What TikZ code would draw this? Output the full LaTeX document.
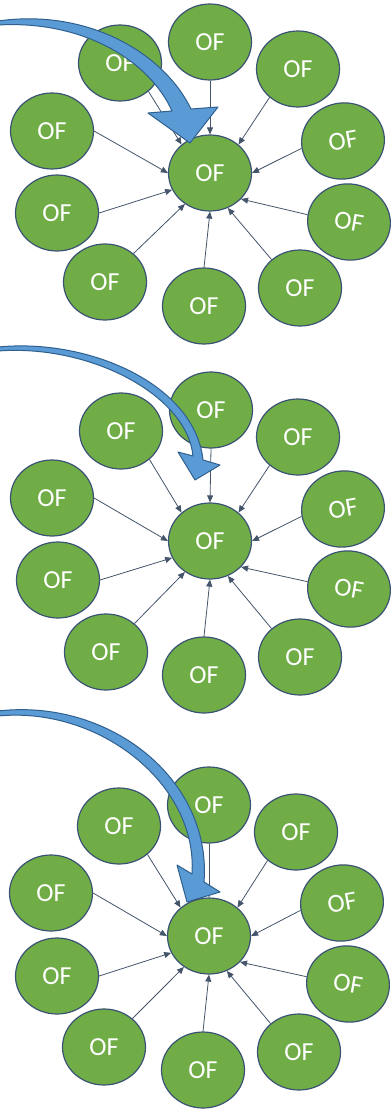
\documentclass[tikz,border=0pt]{standalone}
\usepackage{fontspec}
\newfontfamily\ofsans{Carlito}
\usepackage{tikz}
\usetikzlibrary{arrows.meta,shapes.geometric,backgrounds}
\definecolor{ofgreen}{HTML}{70AD47}
\definecolor{ofline}{HTML}{3B5373}
\definecolor{feedline}{HTML}{44546A}
\definecolor{bigblue}{HTML}{5B9BD5}
\definecolor{bigblueline}{HTML}{2E5F8E}
\tikzset{
  ofnode/.style={ellipse, draw=ofline, fill=ofgreen, text=white, line width=1.2pt,
    minimum width=83pt, minimum height=76pt, inner sep=0pt,
    font=\ofsans\fontsize{26}{26}\selectfont},
  feed/.style={draw=feedline, line width=0.8pt, -{Triangle[length=7pt,width=6pt]}},
  bigarrow/.style={fill=bigblue, draw=bigblueline, line width=1pt, line join=round}
}
\begin{document}
\begin{tikzpicture}[x=1pt,y=-1pt]
   \useasboundingbox (0,0) rectangle (391,1110);

   \draw (210,173) node[ofnode] (a0) {OF};
   \draw (210,42) node[ofnode] (a1) {OF};
   \draw (120,63) node[ofnode] (a2) {OF};
   \draw (298,69) node[ofnode] (a3) {OF};
   \draw (343,141) node[ofnode,rotate=10] (a4) {OF};
   \draw (349,222) node[ofnode,rotate=-10] (a5) {OF};
   \draw (300,288) node[ofnode] (a6) {OF};
   \draw (204,306) node[ofnode] (a7) {OF};
   \draw (105,282) node[ofnode] (a8) {OF};
   \draw (57,213) node[ofnode] (a9) {OF};
   \draw (52,131) node[ofnode] (a10) {OF};

   \draw[bigarrow] (-2,21) .. controls (90,8) and (165,55) .. (191,109) -- (218,107) -- (190,143)
     -- (148,113) -- (172,111) .. controls (150,62) and (85,20) .. (-2,25) -- cycle;

   \draw (210,541) node[ofnode] (b0) {OF};
   \draw (211,410) node[ofnode] (b1) {OF};
   \draw (121,431) node[ofnode] (b2) {OF};
   \draw (298,437) node[ofnode] (b3) {OF};
   \draw (343,509) node[ofnode,rotate=10] (b4) {OF};
   \draw (349,589) node[ofnode,rotate=-10] (b5) {OF};
   \draw (300,657) node[ofnode] (b6) {OF};
   \draw (204,675) node[ofnode] (b7) {OF};
   \draw (106,652) node[ofnode] (b8) {OF};
   \draw (58,580) node[ofnode] (b9) {OF};
   \draw (52,498) node[ofnode] (b10) {OF};

   \draw[bigarrow] (-2,347) .. controls (90,338) and (195,385) .. (203,460) -- (220,465) -- (195,480)
     -- (178,452) -- (193,456) .. controls (187,395) and (90,344) .. (-2,351) -- cycle;

   \draw (209,805) node[ofnode] (c1) {OF};
   \draw (119,826) node[ofnode] (c2) {OF};
   \draw (296,832) node[ofnode] (c3) {OF};
   \draw (342,903) node[ofnode,rotate=10] (c4) {OF};
   \draw (348,984) node[ofnode,rotate=-10] (c5) {OF};
   \draw (299,1052) node[ofnode] (c6) {OF};
   \draw (203,1070) node[ofnode] (c7) {OF};
   \draw (104,1047) node[ofnode] (c8) {OF};
   \draw (57,976) node[ofnode] (c9) {OF};
   \draw (51,893) node[ofnode] (c10) {OF};

   \draw[bigarrow] (-2,711) .. controls (110,698) and (212,780) .. (204,882) -- (220,892) -- (187,902)
     -- (177,865) -- (192,874) .. controls (198,785) and (100,706) .. (-2,716) -- cycle;

   \draw (209,936) node[ofnode] (c0) {OF};

   \begin{scope}[on background layer]
     \path (a1.270) edge[feed] (a0.90);
     \path (a2.315) edge[feed] (a0.135);
     \path (a3.225) edge[feed] (a0.45);
     \path (a4.180) edge[feed] (a0.0);
     \path (a5.180) edge[feed] (a0.320);
     \path (a6.135) edge[feed] (a0.297);
     \path (a7.90) edge[feed] (a0.270);
     \path (a8.45) edge[feed] (a0.231);
     \path (a9.0) edge[feed] (a0.204);
     \path (a10.0) edge[feed] (a0.180);

     \path (b1.270) edge[feed] (b0.90);
     \path (b2.315) edge[feed] (b0.135);
     \path (b3.225) edge[feed] (b0.45);
     \path (b4.180) edge[feed] (b0.0);
     \path (b5.180) edge[feed] (b0.320);
     \path (b6.135) edge[feed] (b0.297);
     \path (b7.90) edge[feed] (b0.270);
     \path (b8.45) edge[feed] (b0.231);
     \path (b9.0) edge[feed] (b0.204);
     \path (b10.0) edge[feed] (b0.180);

     \path (c1.270) edge[feed] (c0.90);
     \path (c2.315) edge[feed] (c0.135);
     \path (c3.225) edge[feed] (c0.45);
     \path (c4.180) edge[feed] (c0.0);
     \path (c5.180) edge[feed] (c0.320);
     \path (c6.135) edge[feed] (c0.297);
     \path (c7.90) edge[feed] (c0.270);
     \path (c8.45) edge[feed] (c0.231);
     \path (c9.0) edge[feed] (c0.204);
     \path (c10.0) edge[feed] (c0.180);
   \end{scope}

\end{tikzpicture}
\end{document}
